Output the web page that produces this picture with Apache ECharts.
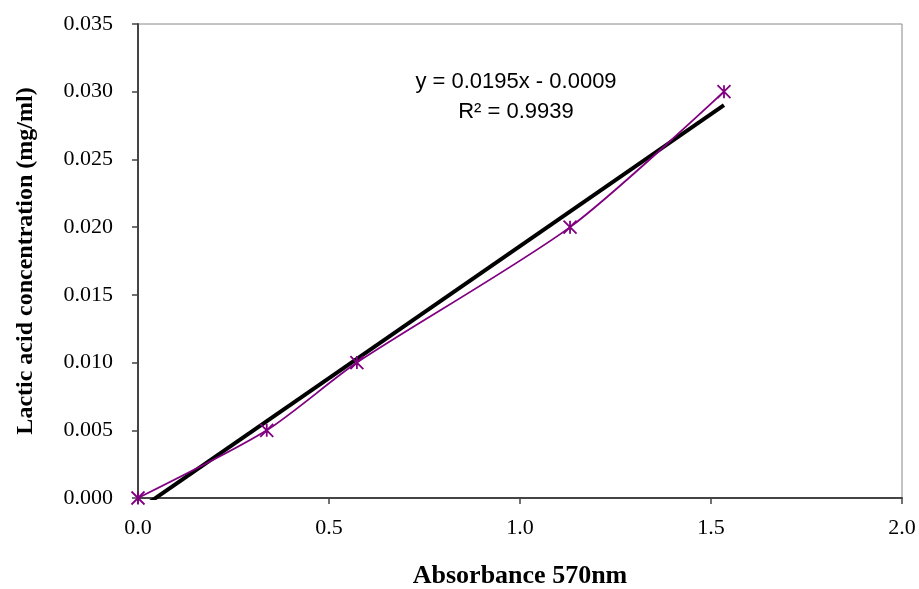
<!DOCTYPE html>
<html><head><meta charset="utf-8">
<script src="https://cdn.jsdelivr.net/npm/echarts@6/dist/echarts.min.js"></script>
<style>html,body{margin:0;padding:0;background:#fff}#c{width:919px;height:589px}</style>
</head><body><div id="c"></div>
<script>
const absorbance = [0.0, 0.337, 0.573, 1.131, 1.534];
const concentration = [0.000, 0.005, 0.010, 0.020, 0.030];
const slope = 0.0195, intercept = -0.0009;
const trendX = [0.0, 1.534];
const equationText = 'y = 0.0195x - 0.0009';
const r2Text = 'R\u00B2 = 0.9939';

const chart = echarts.init(document.getElementById('c'));
const serif = '"Liberation Serif","Times New Roman",serif';
chart.setOption({
  animation: false,
  backgroundColor: '#fff',
  grid: {left: 138, right: 17, top: 24, bottom: 91, outerBoundsMode: 'none', containLabel: false,
         show: true, borderColor: '#888', borderWidth: 1},
  xAxis: {
    type: 'value', min: 0, max: 2, interval: 0.5,
    name: 'Absorbance 570nm', nameLocation: 'middle', nameGap: 65,
    nameTextStyle: {fontFamily: serif, fontWeight: 'bold', fontSize: 26, color: '#000'},
    axisLine: {lineStyle: {color: '#444', width: 2}},
    axisTick: {show: true, inside: false, length: 6, lineStyle: {color: '#444', width: 1.5}},
    axisLabel: {fontFamily: serif, fontSize: 22, color: '#000', margin: 19, formatter: v => v.toFixed(1)},
    splitLine: {show: false}
  },
  yAxis: {
    type: 'value', min: 0, max: 0.035, interval: 0.005,
    name: 'Lactic acid concentration (mg/ml)', nameLocation: 'middle', nameGap: 100,
    nameTextStyle: {fontFamily: serif, fontWeight: 'bold', fontSize: 24, color: '#000'},
    axisLine: {show: true, lineStyle: {color: '#444', width: 2}},
    axisTick: {show: true, inside: false, length: 6, lineStyle: {color: '#444', width: 1.5}},
    axisLabel: {fontFamily: serif, fontSize: 22, color: '#000', margin: 25, formatter: v => v.toFixed(3)},
    splitLine: {show: false}
  },
  series: [
    {
      type: 'line', data: trendX.map(x => [x, slope * x + intercept]),
      symbol: 'none', clip: true,
      lineStyle: {color: '#000', width: 4}, z: 2
    },
    {
      type: 'line', data: absorbance.map((x, i) => [x, concentration[i]]),
      smooth: 0.25, clip: false,
      symbol: 'path://M0,0L10,10M10,0L0,10M5,0L5,10', symbolSize: 13,
      lineStyle: {color: '#800080', width: 1.8},
      itemStyle: {color: 'none', borderColor: '#800080', borderWidth: 1.8}, z: 3
    }
  ],
  graphic: [
    {type: 'text', x: 516, y: 71, style: {text: equationText, font: '22px "Liberation Sans", Arial, sans-serif', fill: '#000', align: 'center'}},
    {type: 'text', x: 516, y: 101, style: {text: r2Text, font: '22px "Liberation Sans", Arial, sans-serif', fill: '#000', align: 'center'}}
  ]
});
</script></body></html>
